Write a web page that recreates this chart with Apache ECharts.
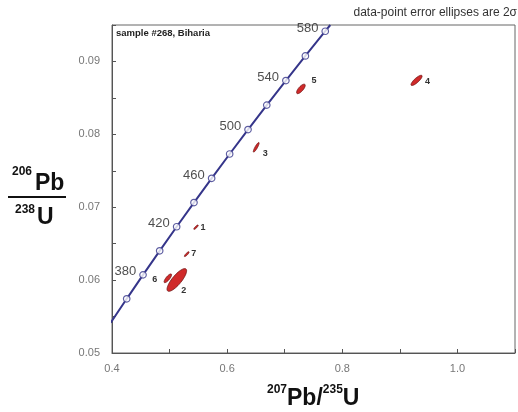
<!DOCTYPE html>
<html>
<head>
<meta charset="utf-8">
<script src="https://cdn.jsdelivr.net/npm/echarts@6/dist/echarts.min.js"></script>
<style>html,body{margin:0;padding:0;background:#fff;}#c{width:518px;height:412px;}</style>
</head>
<body>
<div id="c"></div>
<script>
// Concordia curve (ages in Ma) and its ratios
const curveAges = [340, 360, 380, 400, 420, 440, 460, 480, 500, 520, 540, 560, 580, 585];
const curveX = [0.39773, 0.42553, 0.45389, 0.48281, 0.51231, 0.54239, 0.57307, 0.60437, 0.63628, 0.66883, 0.70203, 0.73588, 0.77041, 0.77918];
const curveY = [0.054158, 0.057434, 0.060720, 0.064016, 0.067322, 0.070638, 0.073965, 0.077302, 0.080650, 0.084008, 0.087376, 0.090755, 0.094144, 0.095000];
const markerAges = [360, 380, 400, 420, 440, 460, 480, 500, 520, 540, 560, 580];
const labelledAges = [380, 420, 460, 500, 540, 580];

// Analyses (data-point error ellipses, 2 sigma)
const spotIds = ['1', '2', '3', '4', '5', '6', '7'];
const pb207u235 = [0.5459, 0.5126, 0.6505, 0.9290, 0.7281, 0.4970, 0.5298];
const pb206u238 = [0.06726, 0.06002, 0.07822, 0.08740, 0.08623, 0.06025, 0.06356];
const err207 = [0.0038, 0.0170, 0.0050, 0.0096, 0.0075, 0.0065, 0.0041];
const err206 = [0.00030, 0.00156, 0.00066, 0.00070, 0.00065, 0.00060, 0.00033];
const rho = [0.86, 0.81, 0.88, 0.83, 0.74, 0.80, 0.86];

// Axis ticks
const xTicks = ['0.4', '0.6', '0.8', '1.0'];
const yTicks = ['0.05', '0.06', '0.07', '0.08', '0.09'];

const FONT = 'Liberation Sans, Arial, Helvetica, sans-serif';
const labelOffsets = {'1': [7, 0], '2': [7, 11], '3': [9, 6], '4': [11, 1], '5': [13, -8], '6': [-13, 1.5], '7': [7, -1]};

const curveData = curveX.map((x, i) => [x, curveY[i]]);
const markerData = markerAges.map(a => {
  const i = curveAges.indexOf(a);
  return {value: [curveX[i], curveY[i]], age: a};
});
const ellipseData = spotIds.map((id, i) => [pb207u235[i], pb206u238[i], err207[i], err206[i], rho[i], i]);

const chart = echarts.init(document.getElementById('c'), null, {renderer: 'canvas'});
chart.setOption({
  animation: false,
  backgroundColor: '#fff',
  grid: {left: 112, right: 1, top: 25, bottom: 59, show: true, borderColor: '#666', borderWidth: 1, backgroundColor: 'transparent'},
  xAxis: {
    type: 'value', min: 0.4, max: 1.1, interval: 0.1,
    axisLine: {show: true, lineStyle: {color: '#555', width: 1}},
    axisTick: {show: true, inside: true, length: 4, lineStyle: {color: '#555'}},
    splitLine: {show: false},
    axisLabel: {
      color: '#777', fontSize: 11, fontFamily: FONT, margin: 10,
      formatter: v => { const s = v.toFixed(1); return xTicks.indexOf(s) >= 0 ? s : ''; }
    }
  },
  yAxis: {
    type: 'value', min: 0.05, max: 0.095, interval: 0.005,
    axisLine: {show: true, lineStyle: {color: '#555', width: 1}},
    axisTick: {show: true, inside: true, length: 4, lineStyle: {color: '#555'}},
    splitLine: {show: false},
    axisLabel: {
      color: '#777', fontSize: 11, fontFamily: FONT, margin: 12,
      formatter: v => { const s = v.toFixed(2); return (yTicks.indexOf(s) >= 0 && Math.abs(v * 100 - Math.round(v * 100)) < 1e-6) ? s : ''; }
    }
  },
  series: [
    {
      type: 'line', data: curveData, clip: true, symbol: 'none', smooth: false,
      lineStyle: {color: '#35358a', width: 2}, z: 3
    },
    {
      type: 'scatter', data: markerData, symbol: 'circle', symbolSize: 6.5, z: 4,
      itemStyle: {color: '#fff', borderColor: '#35358a', borderWidth: 1.2},
      label: {
        show: true, position: 'left', distance: 3, offset: [0, -3],
        color: '#222', fontSize: 13, fontFamily: FONT,
        formatter: p => labelledAges.indexOf(p.data.age) >= 0 ? String(p.data.age) : ''
      }
    },
    {
      type: 'custom', data: ellipseData, z: 5,
      renderItem: (params, api) => {
        const cx = api.value(0), cy = api.value(1), sx = api.value(2), sy = api.value(3), r = api.value(4);
        const idx = api.value(5);
        const pts = [];
        const n = 60, q = Math.sqrt(1 - r * r);
        for (let k = 0; k < n; k++) {
          const t = 2 * Math.PI * k / n;
          pts.push(api.coord([cx + sx * Math.cos(t), cy + sy * (r * Math.cos(t) + q * Math.sin(t))]));
        }
        const c = api.coord([cx, cy]);
        const id = spotIds[idx];
        const off = labelOffsets[id];
        return {
          type: 'group',
          children: [
            {type: 'polygon', shape: {points: pts}, style: {fill: '#d02a2a', stroke: '#701414', lineWidth: 0.8}},
            {type: 'text', x: c[0] + off[0], y: c[1] + off[1],
             style: {text: id, fill: '#333', font: 'bold 9px ' + FONT, align: 'center', verticalAlign: 'middle'}}
          ]
        };
      }
    }
  ],
  graphic: [
    {type: 'text', right: 1, top: 7, style: {text: 'data-point error ellipses are 2σ', fill: '#333', font: '12px ' + FONT}},
    {type: 'text', left: 116, top: 28, style: {text: 'sample #268, Biharia', fill: '#222', font: 'bold 9.5px ' + FONT}},
    // y-axis title as a fraction
    {type: 'text', left: 12, top: 166, style: {text: '206', fill: '#111', font: 'bold 12px ' + FONT}},
    {type: 'text', left: 35, top: 172, style: {text: 'Pb', fill: '#111', font: 'bold 23px ' + FONT}},
    {type: 'line', shape: {x1: 8, y1: 197, x2: 66, y2: 197}, style: {stroke: '#111', lineWidth: 2}},
    {type: 'text', left: 15, top: 204, style: {text: '238', fill: '#111', font: 'bold 12px ' + FONT}},
    {type: 'text', left: 37, top: 206, style: {text: 'U', fill: '#111', font: 'bold 23px ' + FONT}},
    // x-axis title
    {type: 'text', left: 267, top: 384, style: {
      text: '{s|207}{m|Pb/}{s|235}{m|U}',
      rich: {
        s: {fontSize: 12, fontWeight: 'bold', fontFamily: FONT, fill: '#111', verticalAlign: 'top', lineHeight: 26},
        m: {fontSize: 23, fontWeight: 'bold', fontFamily: FONT, fill: '#111', verticalAlign: 'bottom', lineHeight: 26}
      }
    }}
  ]
});
</script>
</body>
</html>
